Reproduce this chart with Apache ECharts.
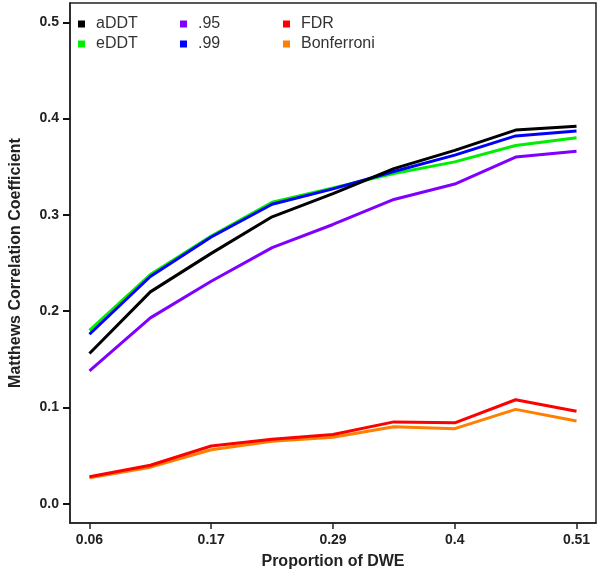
<!DOCTYPE html>
<html>
<head>
<meta charset="utf-8">
<script src="https://cdn.jsdelivr.net/npm/echarts@6/dist/echarts.min.js"></script>
<style>
  html, body { margin: 0; padding: 0; background: #fff; }
  #chart { width: 600px; height: 578px; }
</style>
</head>
<body>
<div id="chart"></div>
<script>
// x categories (proportion of DWE), only every other one is labelled
var xLabels = ['0.06', '', '0.17', '', '0.29', '', '0.4', '', '0.51'];
var xTicks = [0, 2, 4, 6, 8];
var yTicks = [0, 0.1, 0.2, 0.3, 0.4, 0.5];

// Matthews correlation coefficient
var aDDT = [0.156, 0.220, 0.260, 0.298, 0.322, 0.348, 0.367, 0.388, 0.392];
var eDDT = [0.180, 0.238, 0.278, 0.313, 0.328, 0.343, 0.355, 0.372, 0.380];
var p95  = [0.138, 0.193, 0.231, 0.266, 0.290, 0.316, 0.332, 0.360, 0.366];
var p99  = [0.176, 0.236, 0.277, 0.311, 0.327, 0.345, 0.362, 0.382, 0.387];
var fdr  = [0.028, 0.040, 0.060, 0.067, 0.072, 0.085, 0.084, 0.108, 0.096];
var bonf = [0.027, 0.038, 0.056, 0.065, 0.069, 0.080, 0.078, 0.098, 0.086];

function pts(arr) {
	return arr.map(function (v, i) { return [i, v]; });
}
function line(name, arr, color) {
	return {
		name: name,
		type: 'line',
		data: pts(arr),
		showSymbol: false,
		symbol: 'none',
		lineStyle: { color: color, width: 3 },
		itemStyle: { color: color },
		animation: false
	};
}

var myChart = echarts.init(document.getElementById('chart'));
var legendBase = {
	orient: 'vertical',
	top: 11,
	itemWidth: 7,
	itemHeight: 7,
	itemGap: 4,
	icon: 'rect',
	textStyle: { fontSize: 16, color: '#333', fontFamily: 'Liberation Sans', padding: [0, 0, 0, 6] }
};
var option = {
	backgroundColor: '#fff',
	grid: {
		left: 67, right: 4, top: 3, bottom: 55,
		show: true, borderColor: '#222', borderWidth: 1.5
	},
	legend: [
		Object.assign({}, legendBase, { left: 73, data: ['aDDT', 'eDDT'] }),
		Object.assign({}, legendBase, { left: 175, data: ['.95', '.99'] }),
		Object.assign({}, legendBase, { left: 278, data: ['FDR', 'Bonferroni'] })
	],
	xAxis: {
		type: 'value',
		min: -0.32,
		max: 8.32,
		name: 'Proportion of DWE',
		nameLocation: 'middle',
		nameGap: 31,
		nameTextStyle: { fontSize: 16, fontWeight: 'bold', color: '#222', fontFamily: 'Liberation Sans' },
		splitLine: { show: false },
		axisLine: { show: true, onZero: false, lineStyle: { color: '#222', width: 1.5 } },
		axisTick: { show: true, inside: false, length: 6, customValues: xTicks, lineStyle: { color: '#222', width: 1.5 } },
		axisLabel: {
			customValues: xTicks,
			formatter: function (v) { return xLabels[Math.round(v)]; },
			fontSize: 14, fontWeight: 'bold', color: '#222', fontFamily: 'Liberation Sans', margin: 10
		}
	},
	yAxis: {
		type: 'value',
		min: -0.02,
		max: 0.52,
		name: 'Matthews Correlation Coefficient',
		nameLocation: 'middle',
		nameGap: 46,
		nameTextStyle: { fontSize: 16, fontWeight: 'bold', color: '#222', fontFamily: 'Liberation Sans' },
		splitLine: { show: false },
		axisLine: { show: true, onZero: false, lineStyle: { color: '#222', width: 1.5 } },
		axisTick: { show: true, inside: false, length: 7, customValues: yTicks, lineStyle: { color: '#111', width: 2 } },
		axisLabel: {
			customValues: yTicks,
			formatter: function (v) { return v.toFixed(1); },
			fontSize: 14, fontWeight: 'bold', color: '#222', fontFamily: 'Liberation Sans', margin: 11
		}
	},
	series: [
		line('Bonferroni', bonf, '#ff7f00'),
		line('FDR', fdr, '#ff0000'),
		line('.95', p95, '#7f00ff'),
		line('eDDT', eDDT, '#00ee00'),
		line('.99', p99, '#0000ff'),
		line('aDDT', aDDT, '#000000')
	]
};
myChart.setOption(option);
</script>
</body>
</html>
